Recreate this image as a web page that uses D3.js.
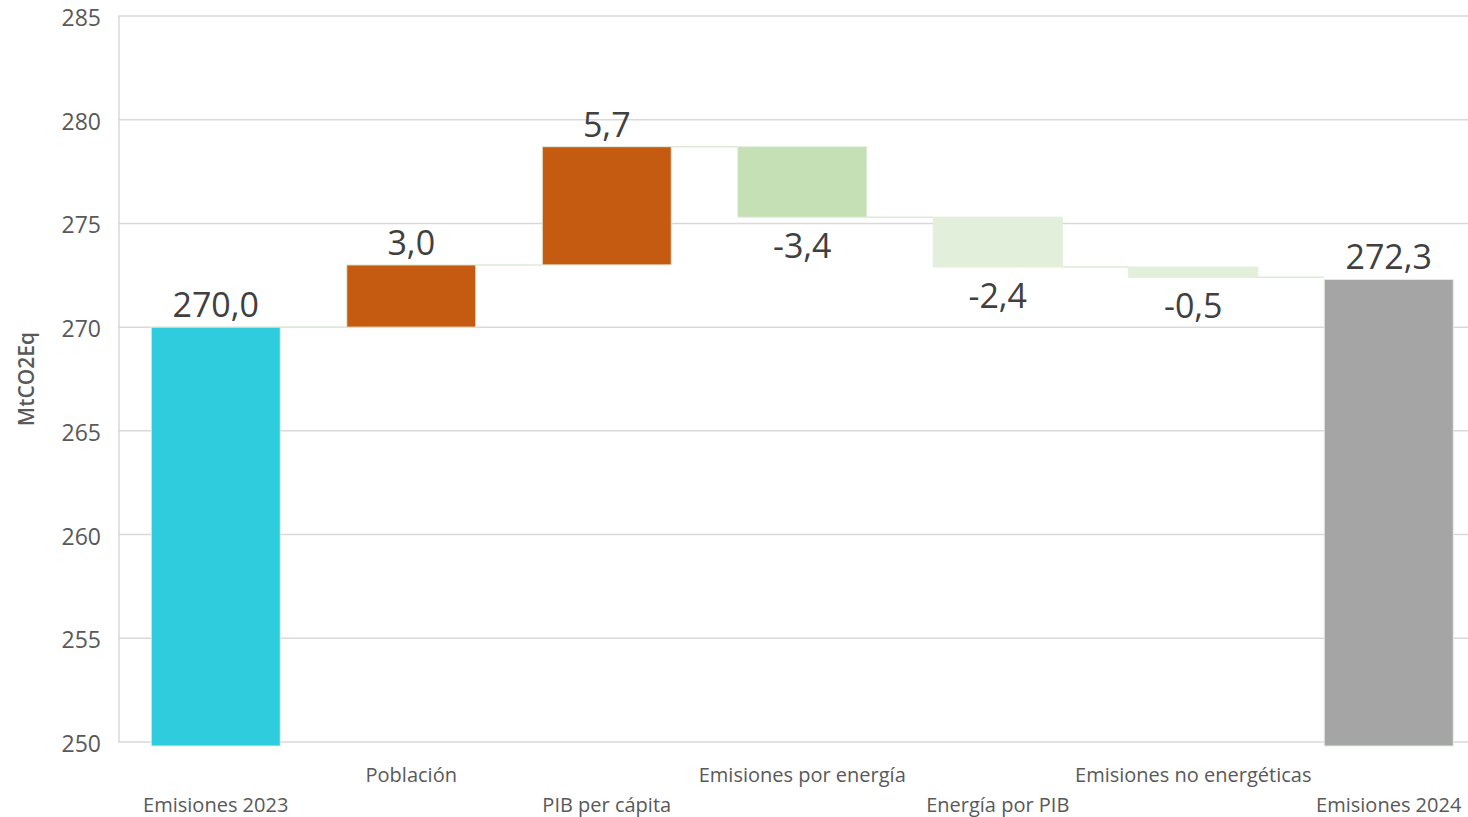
<!DOCTYPE html>
<html>
<head>
<meta charset="utf-8">
<script src="https://cdn.jsdelivr.net/npm/d3@7"></script>
<style>
  html, body { margin: 0; padding: 0; background: #fff; }
  svg { display: block; font-family: "Open Sans", "Noto Sans", sans-serif; }
</style>
</head>
<body>
<svg id="chart" width="1468" height="817"></svg>
<script>
// ---- data ----
const categories = ["Emisiones 2023", "Población", "PIB per cápita", "Emisiones por energía", "Energía por PIB", "Emisiones no energéticas", "Emisiones 2024"];
const kinds = ["total", "delta", "delta", "delta", "delta", "delta", "total"];
const values = [270.0, 3.0, 5.7, -3.4, -2.4, -0.5, 272.3];
const colors = ["#2ECCDC", "#C55A11", "#C55A11", "#C5E0B4", "#E2EFDA", "#E2EFDA", "#A5A5A5"];
const yTicks = [250, 255, 260, 265, 270, 275, 280, 285];
const yTitle = "MtCO2Eq";

// ---- layout ----
const svg = d3.select("#chart");
const W = 1468, H = 817;
const plot = { left: 118, right: 1486.5, top: 16, bottom: 742 };

const x = d3.scaleBand().domain(categories).range([plot.left, plot.right])
  .paddingInner(0.34).paddingOuter(0.17);
const y = d3.scaleLinear().domain([250, 285]).range([plot.bottom, plot.top]);

const loc = d3.formatLocale({ decimal: ",", thousands: ".", grouping: [3], currency: ["", "€"] });
const fmt = loc.format(".1f");

// compute waterfall segments
let run = 0;
const segs = categories.map((c, i) => {
  let start, end;
  if (kinds[i] === "total") { start = 250; end = values[i]; run = values[i]; }
  else { start = run; end = run + values[i]; run = end; }
  return { c, i, start, end, v: values[i], kind: kinds[i], color: colors[i] };
});

// gridlines
svg.append("g").selectAll("line").data(yTicks).join("line")
  .attr("x1", plot.left).attr("x2", W)
  .attr("y1", d => y(d)).attr("y2", d => y(d))
  .attr("stroke", "#D9D9D9").attr("stroke-width", 1.5);

// left axis line
svg.append("line").attr("x1", plot.left + 1).attr("x2", plot.left + 1)
  .attr("y1", y(285)).attr("y2", y(250))
  .attr("stroke", "#D9D9D9").attr("stroke-width", 1.5);

// y tick labels
svg.append("g").selectAll("text").data(yTicks).join("text")
  .attr("x", 101).attr("y", d => y(d) + 2).attr("dy", "0.35em")
  .attr("text-anchor", "end").attr("font-size", 23).attr("fill", "#595959")
  .text(d => d);

// y title
svg.append("text")
  .attr("transform", `translate(34, ${y(267.5)}) rotate(-90)`)
  .attr("text-anchor", "middle").attr("font-size", 21).attr("font-weight", 600)
  .attr("fill", "#595959").text(yTitle);

// connectors
svg.append("g").selectAll("line").data(segs.slice(0, -1)).join("line")
  .attr("x1", d => x(d.c) + x.bandwidth())
  .attr("x2", d => x(categories[d.i + 1]))
  .attr("y1", d => y(d.end)).attr("y2", d => y(d.end))
  .attr("stroke", "#DDEBD3").attr("stroke-width", 1.5);

// bars
svg.append("g").selectAll("rect").data(segs).join("rect")
  .attr("x", d => x(d.c))
  .attr("width", x.bandwidth())
  .attr("y", d => y(Math.max(d.start, d.end)))
  .attr("height", d => Math.abs(y(d.start) - y(d.end)) + (d.kind === "total" ? 4 : 0))
  .attr("fill", d => d.color)
  .attr("stroke", "#E2EFDA").attr("stroke-width", 1);

// data labels
svg.append("g").selectAll("text").data(segs).join("text")
  .attr("x", d => x(d.c) + x.bandwidth() / 2)
  .attr("y", d => d.end >= d.start ? y(d.end) - 10 : y(d.end) + 41)
  .attr("text-anchor", "middle").attr("font-size", 34).attr("fill", "#404040")
  .text(d => fmt(d.v).replace("−", "-"));

// category labels (staggered)
svg.append("g").selectAll("text").data(categories).join("text")
  .attr("x", d => x(d) + x.bandwidth() / 2)
  .attr("y", (d, i) => i % 2 === 0 ? 812 : 782)
  .attr("text-anchor", "middle").attr("font-size", 20).attr("fill", "#595959")
  .text(d => d);
</script>
</body>
</html>
